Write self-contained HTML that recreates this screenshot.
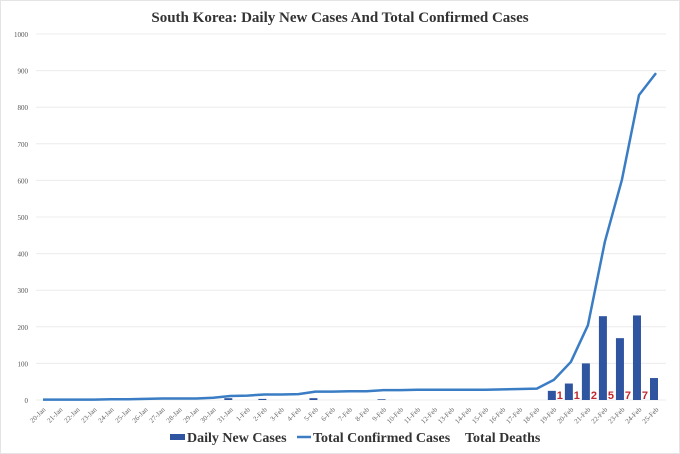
<!DOCTYPE html>
<html><head><meta charset="utf-8"><style>
body{margin:0;background:#fff;}
svg{display:block;font-family:"Liberation Serif",serif;}
</style></head><body>
<svg id="c" width="680" height="454">
<rect x="0.5" y="0.5" width="679" height="453" fill="#fff" stroke="#e4e4e4"/>
<text x="340" y="22" text-anchor="middle" font-size="15" font-weight="bold" fill="#333">South Korea: Daily New Cases And Total Confirmed Cases</text>
<g id="grid"></g><g id="bars"></g><g id="line"></g><g id="labels"></g>
<g>
<rect x="170" y="434" width="15" height="6" fill="#2f55a0"/>
<text x="187" y="442" font-size="14" font-weight="bold" fill="#333">Daily New Cases</text>
<line x1="297" y1="437" x2="311" y2="437" stroke="#3a7dc4" stroke-width="2.5"/>
<text x="313" y="442" font-size="14" font-weight="bold" fill="#333">Total Confirmed Cases</text>
<text x="465" y="442" font-size="14" font-weight="bold" fill="#333">Total Deaths</text>
</g>
</svg>
<script>
const categories=["20-Jan","21-Jan","22-Jan","23-Jan","24-Jan","25-Jan","26-Jan","27-Jan","28-Jan","29-Jan","30-Jan","31-Jan","1-Feb","2-Feb","3-Feb","4-Feb","5-Feb","6-Feb","7-Feb","8-Feb","9-Feb","10-Feb","11-Feb","12-Feb","13-Feb","14-Feb","15-Feb","16-Feb","17-Feb","18-Feb","19-Feb","20-Feb","21-Feb","22-Feb","23-Feb","24-Feb","25-Feb"];
const totalCases=[1,1,1,1,2,2,3,4,4,4,6,11,12,15,15,16,23,23,24,24,27,27,28,28,28,28,28,29,30,31,55,104,204,433,602,833,893];
const dailyCases=[0,0,0,0,0,0,0,0,0,0,0,5,0,3,0,0,5,0,0,0,2,0,0,0,0,0,0,0,0,0,25,45,100,229,169,231,60];
const deaths=[null,null,null,null,null,null,null,null,null,null,null,null,null,null,null,null,null,null,null,null,null,null,null,null,null,null,null,null,null,null,1,1,2,5,7,7,null];
const yTicks=[0,100,200,300,400,500,600,700,800,900,1000];
const NS="http://www.w3.org/2000/svg";
const x0=43,x1=656,yb=400,yt=34;
const xs=i=>x0+(x1-x0)*i/(categories.length-1);
const ys=v=>yb-(yb-yt)*v/1000;
function mk(tag,attrs,parent){const e=document.createElementNS(NS,tag);for(const k in attrs)e.setAttribute(k,attrs[k]);document.getElementById(parent).appendChild(e);return e;}
yTicks.forEach(v=>{
 const l=mk("line",{x1:36,x2:666,y1:ys(v),y2:ys(v),stroke:"#ececec","stroke-width":1},"grid");
 
 
 const t=mk("text",{x:28,y:ys(v)+3,"text-anchor":"end","font-size":7,fill:"#555"},"grid");
 t.textContent=v;
 
 
});
categories.forEach((c,i)=>{
 const x=xs(i),y=410;
 const t=mk("text",{x:x+3,y:y,"text-anchor":"end","font-size":7,fill:"#666",transform:`rotate(-45 ${x+3} ${y})`},"labels");
 t.textContent=c;
 
 
 if(dailyCases[i]>0){
  const r=mk("rect",{x:x-6,y:ys(dailyCases[i]),width:8,height:yb-ys(dailyCases[i]),fill:"#2f55a0"},"bars");
  
  
 }
 if(deaths[i]!=null){
  const d=mk("text",{x:x+6,y:yb-1,"text-anchor":"middle","font-size":11,"font-weight":"bold",fill:"#c0282d","font-family":"Liberation Sans, sans-serif"},"labels");
  d.textContent=deaths[i];
  
  
 }
});
const p=mk("polyline",{points:totalCases.map((v,i)=>xs(i)+","+ys(v)).join(" "),fill:"none",stroke:"#3a7dc4","stroke-width":2.5,"stroke-linejoin":"round"},"line");


</script>
</body></html>
